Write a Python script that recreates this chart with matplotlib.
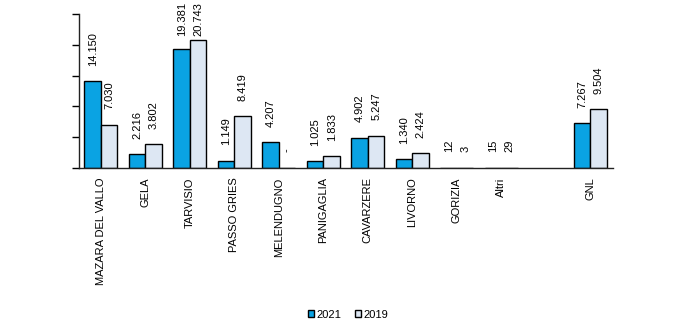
import numpy as np
import matplotlib.pyplot as plt
from matplotlib.patches import Patch

plt.rcParams['font.family'] = ['Liberation Sans', 'DejaVu Sans']

categorie = ['MAZARA DEL VALLO', 'GELA', 'TARVISIO', 'PASSO GRIES', 'MELENDUGNO',
             'PANIGAGLIA', 'CAVARZERE', 'LIVORNO', 'GORIZIA', 'Altri', '', 'GNL']
v2021 = [14150, 2216, 19381, 1149, 4207, 1025, 4902, 1340, 12, 15, None, 7267]
v2019 = [7030, 3802, 20743, 8419, 0, 1833, 5247, 2424, 3, 29, None, 9504]

def fmt(v):
    if v == 0:
        return '-'
    return f'{v:,}'.replace(',', '.')

blu = '#0aa3e3'
chiaro = '#dde7f3'

fig = plt.figure(figsize=(7, 3.28), dpi=100)
ax = fig.add_axes([0.1124, 0.4887, 0.7627, 0.4677])

x = np.arange(len(categorie))
w = 0.37
etichette = []
for i in range(len(categorie)):
    if v2021[i] is None:
        continue
    ax.bar(x[i] - w / 2, v2021[i], w, color=blu, edgecolor='black', linewidth=1)
    ax.bar(x[i] + w / 2, v2019[i], w, color=chiaro, edgecolor='black', linewidth=1)
    for xx, v in [(x[i] - w / 2, v2021[i]), (x[i] + w / 2, v2019[i])]:
        t = ax.annotate(fmt(v), (xx, v), xytext=(0, 11),
                        textcoords='offset points', rotation=90, ha='center', va='bottom',
                        fontsize=8, annotation_clip=False)
        etichette.append(t)

ax.set_xlim(-0.5, len(categorie) - 0.5)
ax.set_ylim(0, 25000)
ax.set_yticks(np.arange(0, 25001, 5000))
ax.set_yticklabels([])
ax.tick_params(axis='y', direction='out', length=5, width=1)
ax.set_xticks(x)
ax.set_xticklabels(categorie, rotation=90, fontsize=8)
ax.tick_params(axis='x', length=0, pad=7)
for s in ['top', 'right']:
    ax.spines[s].set_visible(False)
for s in ['left', 'bottom']:
    ax.spines[s].set_linewidth(1)
    ax.spines[s].set_color('#222222')

# le etichette troppo alte vengono abbassate per restare nella figura
fig.canvas.draw()
r = fig.canvas.get_renderer()
H = fig.bbox.height
for t in etichette:
    bb = t.get_window_extent(r)
    if bb.y1 > H - 2:
        dy = (bb.y1 - (H - 2)) * 72 / fig.dpi
        t.xyann = (0, 11 - dy)

handles = [Patch(facecolor=blu, edgecolor='black', label='2021'),
           Patch(facecolor=chiaro, edgecolor='black', label='2019')]
fig.legend(handles=handles, loc='center', bbox_to_anchor=(0.497, 0.04), ncol=2,
           frameon=False, fontsize=8, handlelength=0.6, handleheight=0.6,
           handletextpad=0.2, columnspacing=1.2)

fig.savefig('out.png', dpi=100)
